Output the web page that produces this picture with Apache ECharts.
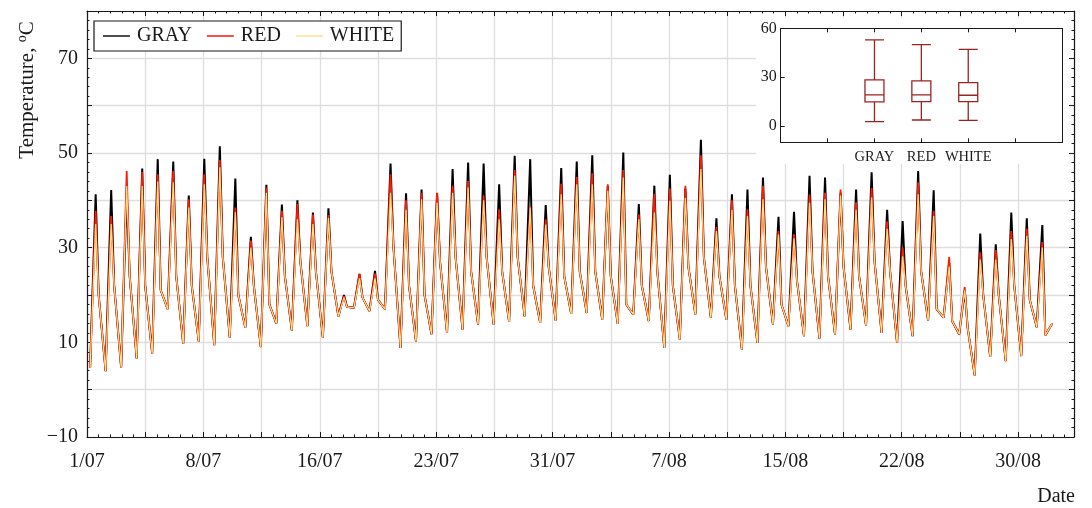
<!DOCTYPE html>
<html>
<head>
<meta charset="utf-8">
<script src="https://cdn.jsdelivr.net/npm/echarts@6/dist/echarts.min.js"></script>
<style>
  html, body { margin: 0; padding: 0; background: #fff; }
  #chart { width: 1092px; height: 508px; }
</style>
</head>
<body>
<div id="chart"></div>
<script>
// Dated tick labels, one every 7.5 days starting 1 July
const tickLabels = ['1/07', '8/07', '16/07', '23/07', '31/07', '7/08', '15/08', '22/08', '30/08'];
const labelStepDays = 7.5;
const seriesNames = ['GRAY', 'RED', 'WHITE'];

// Time of day (hours) of the early-morning low, the afternoon peak and the evening reading
const hourLow = 4.8;
const hourPeak = 13.4;
const hourEvening = 18;

// Early-morning lows, °C (one per day, plus the closing value)
const lows = [
  4.6, 3.9, 4.7, 6.6, 7.6, 17.0, 9.7, 10.2, 9.4, 11.0,
  13.1, 9.0, 14.0, 12.5, 13.4, 11.0, 15.5, 17.3, 16.6, 17.0,
  8.8, 10.2, 11.7, 12.0, 12.7, 13.8, 13.8, 14.3, 15.5, 14.1,
  14.6, 16.0, 16.2, 14.8, 13.9, 15.9, 14.5, 8.8, 10.6, 15.9,
  15.2, 14.8, 8.5, 9.9, 13.8, 13.4, 11.3, 10.8, 11.7, 12.7,
  13.6, 12.0, 9.9, 11.3, 14.6, 15.2, 11.7, 3.0, 6.9, 6.0,
  7.1, 13.2, 14.0
];

// Evening readings, °C
const evenings = [
  20, 22, 24, 22, 21, 24, 22, 28, 28, 20,
  22, 18, 24, 27, 25, 25, 17.5, 19.5, 19, 30,
  22, 20, 27, 28, 25, 28, 25, 28, 22, 26,
  24, 25, 25, 24, 18, 22, 25, 22, 26, 28,
  24, 22, 22, 26, 18, 23, 25, 24, 26, 24,
  27, 25, 22, 25, 17, 14.5, 13, 20, 20, 22,
  19, 11.5
];

// Daily peak temperatures of each surface, °C
const grayPeaks = [
  41.3, 42.2, 41.5, 46.7, 48.7, 48.2, 41.0, 48.8, 51.4, 44.6,
  32.3, 43.3, 39.1, 40.0, 37.4, 38.3, 20.0, 24.4, 25.1, 47.8,
  41.5, 42.3, 41.5, 46.6, 48.0, 47.8, 43.4, 49.4, 48.7, 39.0,
  46.8, 48.2, 49.5, 43.0, 50.1, 39.2, 43.1, 45.4, 42.5, 52.8,
  36.2, 41.3, 42.3, 44.8, 36.5, 37.6, 45.2, 44.8, 41.6, 42.3,
  45.9, 38.0, 35.6, 46.2, 42.1, 26.8, 21.0, 33.0, 30.7, 37.4,
  36.2, 34.8
];
const redPeaks = [
  37.8, 36.7, 46.2, 46.0, 45.5, 46.2, 40.2, 45.5, 48.5, 38.5,
  31.5, 42.7, 37.8, 39.2, 37.0, 36.9, 19.8, 24.5, 24.5, 45.5,
  40.0, 41.5, 41.6, 43.1, 44.1, 41.0, 38.1, 46.4, 38.8, 36.0,
  43.5, 44.9, 45.7, 43.4, 46.4, 37.0, 41.4, 42.5, 43.1, 49.5,
  34.4, 40.0, 38.1, 43.1, 33.5, 32.8, 41.2, 41.6, 42.3, 39.6,
  42.6, 35.5, 30.0, 43.8, 37.8, 28.0, 21.7, 29.0, 29.5, 33.5,
  34.0, 31.2
];
const whitePeaks = [
  35.0, 35.0, 43.0, 43.0, 44.0, 43.8, 38.5, 43.4, 47.0, 37.5,
  30.0, 41.6, 36.4, 36.0, 35.0, 36.3, 19.5, 23.5, 23.5, 41.6,
  38.0, 40.2, 39.5, 41.6, 42.7, 40.0, 36.0, 45.2, 38.5, 34.9,
  41.3, 43.4, 43.4, 42.0, 44.8, 36.0, 37.4, 39.9, 40.5, 46.6,
  33.5, 38.0, 36.7, 40.2, 32.8, 32.0, 39.5, 40.2, 41.0, 38.0,
  40.6, 34.0, 28.2, 41.3, 36.7, 26.0, 21.0, 27.5, 27.5, 31.8,
  32.5, 30.0
];

// Box-and-whisker summaries: [min, Q1, median, Q3, max]
const grayBox = [2.7, 14.8, 19.1, 28.3, 52.9];
const redBox = [3.7, 15.0, 19.1, 27.7, 50.0];
const whiteBox = [3.5, 15.0, 18.9, 26.7, 47.0];

const FONT = '"Liberation Serif", "DejaVu Serif", serif';
const INK = '#1a1a1a';

// Time in days since 1 July 00:00 for each reading
function dailyPoints(peaks) {
  const pts = [];
  for (let d = 0; d < peaks.length; d++) {
    pts.push([d + hourLow / 24, lows[d]]);
    pts.push([d + hourPeak / 24, peaks[d]]);
    pts.push([d + hourEvening / 24, evenings[d]]);
  }
  pts.push([peaks.length + hourLow / 24, lows[peaks.length]]);
  return pts;
}

function dateLabel(v) {
  const i = v / labelStepDays;
  if (Math.abs(i - Math.round(i)) < 1e-6 && Math.round(i) < tickLabels.length) {
    return tickLabels[Math.round(i)];
  }
  return '';
}

function tempLabel(v) {
  if (Math.round(v + 10) % 20 !== 0) return '';
  return v < 0 ? '\u2212' + Math.abs(v) : String(v);
}

const chart = echarts.init(document.getElementById('chart'), null, { renderer: 'canvas' });

const frameLine = { show: true, onZero: false, lineStyle: { color: INK, width: 1.2 } };
const insetLine = { show: true, onZero: false, lineStyle: { color: INK, width: 1 } };
const mainX = {
  type: 'value', min: 0, max: 63.6, interval: 3.75, gridIndex: 0, z: 0,
  axisLine: frameLine,
  axisTick: { show: true, inside: true, length: 5, lineStyle: { color: INK, width: 1 } },
  minorTick: { show: true, splitNumber: 5, length: 2.5, lineStyle: { color: INK, width: 1 } },
  minorSplitLine: { show: false }
};
const mainY = {
  type: 'value', min: -10, max: 80, interval: 10, gridIndex: 0, z: 0,
  axisLine: frameLine,
  axisTick: { show: true, inside: true, length: 5, lineStyle: { color: INK, width: 1 } },
  minorTick: { show: true, splitNumber: 5, length: 2.5, lineStyle: { color: INK, width: 1 } },
  minorSplitLine: { show: false }
};

const option = {
  animation: false,
  backgroundColor: '#fff',
  grid: [
    { left: 87, top: 11, right: 18, bottom: 71, outerBoundsMode: 'none', containLabel: false },
    { left: 780.7, top: 28.3, width: 281.3, height: 114, outerBoundsMode: 'none', containLabel: false }
  ],
  xAxis: [
    Object.assign({}, mainX, {
      position: 'bottom',
      splitLine: { show: true, lineStyle: { color: '#dedede', width: 1.3 } },
      axisLabel: { formatter: dateLabel, margin: 15, fontFamily: FONT, fontSize: 20, color: INK, showMaxLabel: false }
    }),
    Object.assign({}, mainX, {
      position: 'top',
      splitLine: { show: false },
      axisLabel: { show: false }
    }),
    {
      type: 'category', gridIndex: 1, position: 'bottom', z: 3,
      data: ['', '', 'GRAY', 'RED', 'WHITE', '', ''], boundaryGap: false,
      axisLine: insetLine,
      axisTick: { show: true, inside: true, length: 4, interval: 0, lineStyle: { color: INK } },
      axisLabel: { interval: 0, margin: 7, fontFamily: FONT, fontSize: 14.5, color: INK },
      splitLine: { show: false }
    },
    {
      type: 'category', gridIndex: 1, position: 'top', z: 3,
      data: ['', '', 'GRAY', 'RED', 'WHITE', '', ''], boundaryGap: false,
      axisLine: insetLine,
      axisTick: { show: true, inside: true, length: 4, interval: 0, lineStyle: { color: INK } },
      axisLabel: { show: false },
      splitLine: { show: false }
    }
  ],
  yAxis: [
    Object.assign({}, mainY, {
      position: 'left',
      splitLine: { show: true, lineStyle: { color: '#dedede', width: 1.3 } },
      axisLabel: { formatter: tempLabel, margin: 9, fontFamily: FONT, fontSize: 20, color: INK }
    }),
    Object.assign({}, mainY, {
      position: 'right',
      splitLine: { show: false },
      axisLabel: { show: false }
    }),
    {
      type: 'value', gridIndex: 1, position: 'left', min: -10, max: 60, interval: 10, z: 3,
      axisLine: insetLine,
      axisTick: { show: true, inside: true, length: 4, customValues: [0, 30, 60], lineStyle: { color: INK } },
      axisLabel: { customValues: [0, 30, 60], margin: 4, fontFamily: FONT, fontSize: 16, color: INK },
      splitLine: { show: false }
    },
    {
      type: 'value', gridIndex: 1, position: 'right', min: -10, max: 60, interval: 10, z: 3,
      axisLine: insetLine,
      axisTick: { show: false },
      axisLabel: { show: false },
      splitLine: { show: false }
    }
  ],
  legend: {
    data: seriesNames,
    left: 94, top: 21, orient: 'horizontal',
    icon: 'rect', itemWidth: 27, itemHeight: 1.4, itemGap: 15,
    padding: [5, 7, 5, 9],
    borderColor: INK, borderWidth: 1.2, backgroundColor: '#fff',
    textStyle: { fontFamily: FONT, fontSize: 20, color: INK, padding: [0, 0, 0, 2] }
  },
  graphic: [
    {
      type: 'rect', z: 1, silent: true,
      shape: { x: 756, y: 18, width: 313, height: 146 },
      style: { fill: '#fff' }
    },
    {
      type: 'text', z: 5, x: 27, y: 90, rotation: Math.PI / 2,
      style: {
        text: 'Temperature, {sup|o}C',
        fontFamily: FONT, fontSize: 21, fill: INK,
        align: 'center', verticalAlign: 'middle',
        rich: { sup: { fontFamily: FONT, fontSize: 14, fill: INK, padding: [0, 0, 9, 0] } }
      }
    },
    {
      type: 'text', z: 5, x: 1075, y: 497,
      style: { text: 'Date', fontFamily: FONT, fontSize: 20, fill: INK, align: 'right', verticalAlign: 'middle' }
    }
  ],
  series: [
    {
      name: 'GRAY', type: 'line', xAxisIndex: 0, yAxisIndex: 0, z: 2,
      data: dailyPoints(grayPeaks), symbol: 'none', color: '#000000',
      lineStyle: { color: '#000000', width: 2 }
    },
    {
      name: 'RED', type: 'line', xAxisIndex: 0, yAxisIndex: 0, z: 2,
      data: dailyPoints(redPeaks), symbol: 'none', color: '#ff0000',
      lineStyle: { color: '#ff1a00', width: 1.8 }
    },
    {
      name: 'WHITE', type: 'line', xAxisIndex: 0, yAxisIndex: 0, z: 2,
      data: dailyPoints(whitePeaks), symbol: 'none', color: '#ffe08a',
      lineStyle: { color: '#ffe083', width: 1.2 }
    },
    {
      name: 'summary', type: 'boxplot', xAxisIndex: 2, yAxisIndex: 2, z: 4,
      encode: { x: 0, y: [1, 2, 3, 4, 5] },
      data: [[2].concat(grayBox), [3].concat(redBox), [4].concat(whiteBox)],
      boxWidth: [19, 19],
      itemStyle: { color: 'rgba(255,255,255,0)', borderColor: '#9b2323', borderWidth: 1.3 }
    }
  ]
};

chart.setOption(option);
</script>
</body>
</html>
